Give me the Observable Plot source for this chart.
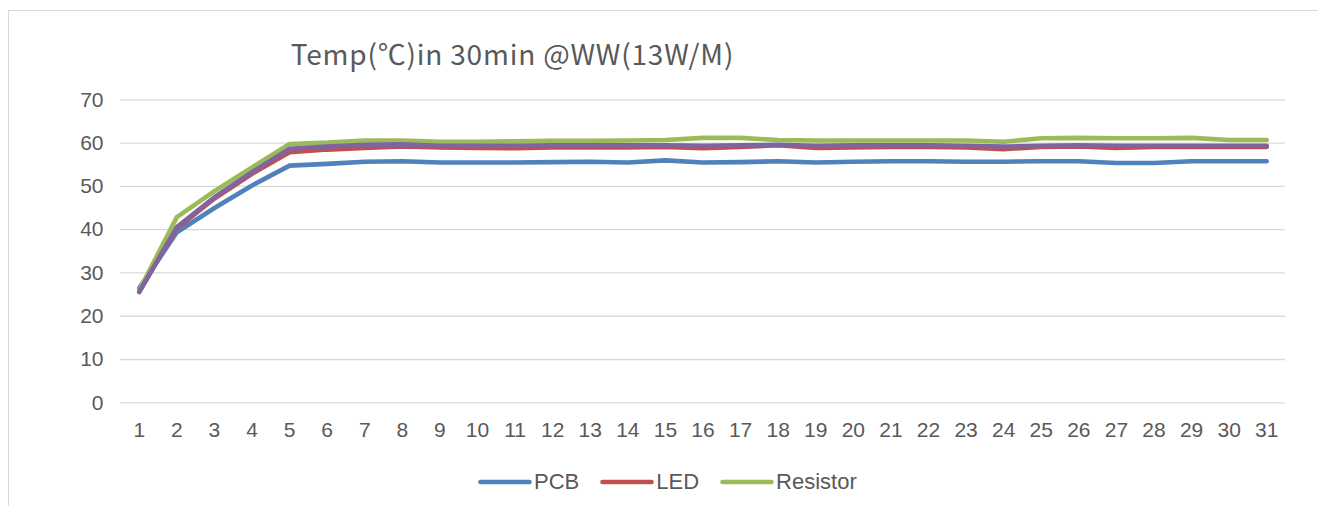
<!DOCTYPE html>
<html>
<head>
<meta charset="utf-8">
<script src="https://cdn.jsdelivr.net/npm/d3@7"></script>
<script src="https://cdn.jsdelivr.net/npm/@observablehq/plot@0.6"></script>
<style>
  html, body { margin: 0; padding: 0; background: #fff; }
  #wrap { position: relative; width: 1318px; height: 506px; overflow: hidden; background: #fff; }
  #frame { position: absolute; left: 8px; top: 10px; width: 1400px; height: 600px; border: 1.3px solid #d9d9d9; box-sizing: border-box; }
  #title { position: absolute; left: 0; top: 38px; width: 1025px; text-align: center; font-family: "Noto Sans CJK SC", "Open Sans", sans-serif; font-size: 28px; letter-spacing: 0.8px; line-height: 30px; color: #595959; white-space: nowrap; }
  #chart { position: absolute; left: 0; top: 80px; }
  #legend { position: absolute; left: 478px; top: 469px; display: flex; align-items: center; font-family: "Liberation Sans", Arial, sans-serif; font-size: 22px; color: #595959; line-height: 26px; }
  .item { display: flex; align-items: center; margin-right: 21px; }
  .item svg { margin-right: 2px; }
</style>
</head>
<body>
<div id="wrap">
  <div id="frame"></div>
  <div id="title">Temp(℃)in 30min @WW(13W/M)</div>
  <div id="chart"></div>
  <div id="legend"></div>
</div>
<script>
const days = [1,2,3,4,5,6,7,8,9,10,11,12,13,14,15,16,17,18,19,20,21,22,23,24,25,26,27,28,29,30,31];
const pcb = [26.5,39.4,45.0,50.2,54.8,55.2,55.7,55.8,55.5,55.5,55.5,55.6,55.7,55.5,56.0,55.5,55.6,55.8,55.5,55.7,55.8,55.8,55.7,55.7,55.8,55.8,55.4,55.4,55.8,55.8,55.8];
const led = [25.8,40.3,47.2,52.9,57.9,58.5,58.9,59.2,59.0,58.9,58.8,59.0,59.0,59.0,59.1,58.8,59.1,59.5,58.9,59.0,59.1,59.1,59.0,58.6,59.1,59.2,58.9,59.1,59.1,59.1,59.1];
const resistor = [26.0,42.9,48.9,54.4,59.8,60.1,60.6,60.6,60.3,60.3,60.4,60.5,60.5,60.6,60.7,61.2,61.2,60.7,60.6,60.6,60.6,60.6,60.6,60.3,61.1,61.2,61.1,61.1,61.2,60.7,60.7];
const series4 = [25.6,40.6,47.5,53.3,58.7,59.2,59.6,59.7,59.4,59.4,59.4,59.5,59.5,59.5,59.5,59.4,59.5,59.6,59.4,59.5,59.5,59.5,59.4,59.2,59.4,59.5,59.4,59.4,59.4,59.4,59.4];
const yTicks = [0,10,20,30,40,50,60,70];
const seriesNames = ["PCB","LED","Resistor","系列4"];
const seriesColors = ["#4F81BD","#C0504D","#9BBB59","#8064A2"];
const legendNames = ["PCB","LED","Resistor"];

const seriesValues = [pcb, led, resistor, series4];
const lineMarks = seriesValues.map((vals, i) =>
  Plot.line(days.map((d, j) => ({day: d, value: vals[j]})), {
    x: "day", y: "value",
    stroke: seriesColors[i], strokeWidth: 4.6,
    curve: "linear", strokeLinecap: "round", strokeLinejoin: "round"
  })
);

const chart = Plot.plot({
  width: 1318,
  height: 380,
  marginLeft: 120,
  marginRight: 33,
  marginTop: 19.3,
  marginBottom: 57.7,
  style: {fontFamily: "'Liberation Sans', Arial, sans-serif", fontSize: "21px", color: "#595959", background: "transparent"},
  x: {type: "point", domain: days, padding: 0.5, round: false},
  y: {domain: [0, 70]},
  marks: [
    Plot.ruleY(yTicks, {stroke: "#d9d9d9", strokeWidth: 1.3}),
    Plot.axisY({ticks: yTicks, tickSize: 0, tickPadding: 17, label: null, fontSize: 21}),
    Plot.axisX({tickSize: 0, tickPadding: 19, label: null, fontSize: 21}),
    ...lineMarks
  ]
});
document.getElementById("chart").appendChild(chart);

const legend = document.getElementById("legend");
legendNames.forEach((name, i) => {
  const item = document.createElement("div");
  item.className = "item";
  item.innerHTML = `<svg width="54" height="8"><line x1="2.5" y1="4" x2="51.5" y2="4" stroke="${seriesColors[i]}" stroke-width="4.6" stroke-linecap="round"/></svg><span>${name}</span>`;
  legend.appendChild(item);
});
</script>
</body>
</html>
